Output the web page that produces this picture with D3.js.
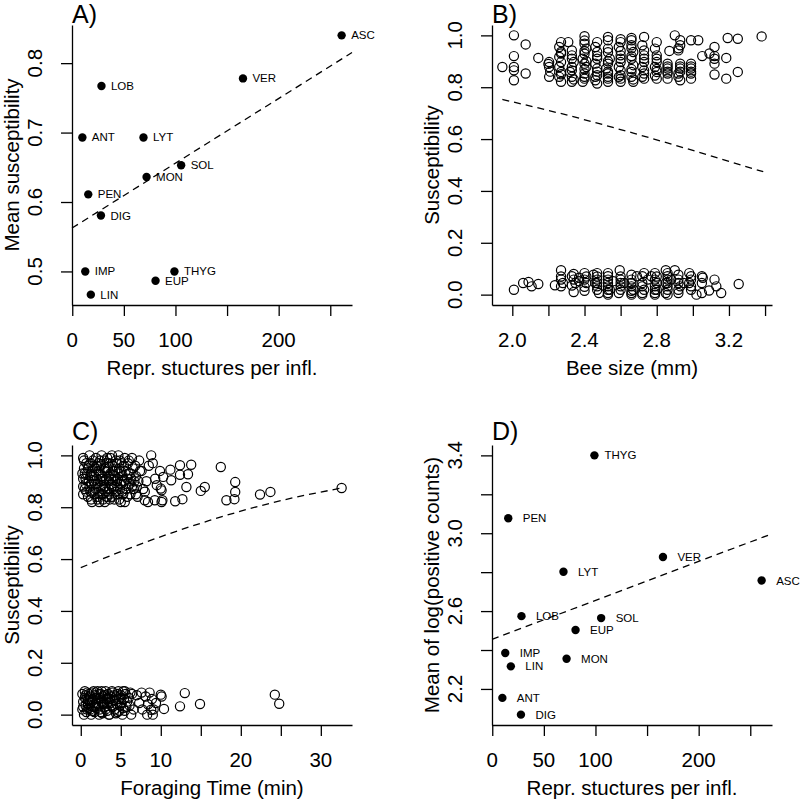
<!DOCTYPE html>
<html><head><meta charset="utf-8">
<script src="https://cdn.jsdelivr.net/npm/d3@7"></script>
<style>
body{margin:0;background:#fff}
text{font-family:"Liberation Sans",Arial,Helvetica,sans-serif;fill:#000}
</style>
</head><body>
<svg id="chart" width="800" height="800" style="background:#fff"></svg>
<script>
// ---------- DATA ----------
const species = ["ASC","VER","LOB","ANT","LYT","SOL","MON","PEN","DIG","IMP","THYG","EUP","LIN"];
const reprStructures = [261,165.4,28.3,9.8,69,105.5,72,15.5,27.8,12.6,99,80.7,18];
const meanSusceptibility = [0.840,0.778,0.767,0.693,0.693,0.653,0.636,0.611,0.5805,0.500,0.500,0.4865,0.4666];
const meanLogPositive = [2.757,2.878,2.574,2.154,2.802,2.564,2.355,3.077,2.068,2.385,3.400,2.503,2.316];
const fitA = [0.5627, 0.000932];   // intercept, slope
const fitD = [2.455, 0.0020];      // intercept, slope
const susceptibilityRange = [0, 1];

// Panel B: bee size (mm) vs susceptibility
const beeSizeUpper = [
 [2.009,1.0],[2.074,0.965],[2.009,0.92],[2.144,0.913],[1.945,0.878],[2.009,0.878],[2.009,0.865],[2.074,0.853],[2.009,0.827],
 [2.204,0.897],[2.204,0.878],[2.204,0.840],[2.21,0.86],[2.20,0.89],
 [2.27,0.974],[2.26,0.955],[2.27,0.936],[2.26,0.917],[2.27,0.897],[2.26,0.878],[2.27,0.859],[2.26,0.840],[2.27,0.821],[2.27,0.93],[2.27,0.85],
 [2.31,0.974],[2.33,0.942],[2.33,0.923],[2.34,0.897],[2.33,0.878],[2.32,0.859],[2.33,0.840],[2.33,0.821],[2.33,0.91],[2.33,0.865],[2.34,0.83],
 [2.40,0.997],[2.40,0.968],[2.41,0.949],[2.40,0.929],[2.39,0.910],[2.40,0.891],[2.41,0.878],[2.40,0.853],[2.40,0.833],[2.39,0.821],
 [2.40,0.94],[2.40,0.87],[2.40,0.84],[2.41,0.90],[2.40,0.98],
 [2.47,0.974],[2.46,0.955],[2.47,0.936],[2.47,0.910],[2.46,0.891],[2.47,0.872],[2.47,0.846],[2.46,0.827],[2.47,0.814],[2.47,0.92],[2.47,0.86],[2.46,0.84],
 [2.53,0.994],[2.53,0.981],[2.53,0.949],[2.54,0.910],[2.53,0.891],[2.52,0.872],[2.53,0.853],[2.53,0.833],[2.53,0.821],[2.53,0.935],[2.53,0.90],[2.53,0.86],[2.53,0.84],
 [2.60,0.974],[2.59,0.955],[2.60,0.923],[2.60,0.897],[2.59,0.878],[2.60,0.846],[2.60,0.833],[2.60,0.821],[2.60,0.94],[2.60,0.91],[2.60,0.865],[2.59,0.84],[2.60,0.985],
 [2.66,0.981],[2.66,0.962],[2.67,0.936],[2.66,0.910],[2.67,0.885],[2.66,0.859],[2.66,0.840],[2.67,0.821],[2.66,0.95],[2.66,0.92],[2.66,0.87],[2.67,0.83],[2.66,0.99],
 [2.73,0.994],[2.72,0.962],[2.73,0.942],[2.73,0.923],[2.73,0.897],[2.72,0.878],[2.73,0.853],[2.73,0.833],[2.73,0.91],[2.73,0.865],[2.72,0.84],
 [2.80,0.974],[2.79,0.949],[2.80,0.923],[2.80,0.897],[2.79,0.878],[2.80,0.859],[2.80,0.833],[2.80,0.91],[2.80,0.87],[2.79,0.845],
 [2.87,0.940],[2.86,0.891],[2.86,0.872],[2.86,0.853],[2.86,0.833],[2.86,0.88],[2.86,0.86],
 [2.90,1.0],[2.93,0.981],[2.93,0.962],[2.92,0.942],[2.93,0.891],[2.93,0.872],[2.92,0.853],[2.93,0.827],[2.93,0.88],[2.93,0.86],[2.92,0.84],[2.92,0.95],
 [2.99,0.981],[3.03,0.981],[2.99,0.891],[2.99,0.872],[2.99,0.853],[2.99,0.833],[2.99,0.88],[2.99,0.86],
 [3.052,0.92],[3.092,0.93],[3.12,0.955],[3.12,0.91],[3.12,0.891],[3.12,0.849],[3.12,0.92],[3.185,0.913],[3.185,0.833],
 [3.193,0.99],[3.249,0.987],[3.249,0.859],[3.381,0.996]
];
const beeSizeLower = [
 [2.009,0.019],[2.06,0.045],[2.09,0.049],[2.107,0.032],[2.144,0.041],
 [2.236,0.036],[2.27,0.094],[2.27,0.058],[2.27,0.032],[2.28,0.045],[2.27,0.07],
 [2.33,0.071],[2.34,0.058],[2.34,0.010],[2.35,0.045],[2.37,0.065],[2.37,0.052],[2.33,0.035],[2.34,0.08],
 [2.40,0.083],[2.40,0.058],[2.41,0.045],[2.40,0.03],[2.40,0.015],[2.41,0.07],
 [2.45,0.077],[2.47,0.083],[2.47,0.058],[2.47,0.032],[2.47,0.019],[2.48,0.006],[2.46,0.045],[2.47,0.07],[2.47,0.045],
 [2.53,0.083],[2.53,0.071],[2.53,0.045],[2.53,0.032],[2.54,0.019],[2.53,0.006],[2.56,0.052],[2.53,0.058],[2.53,0.019],[2.53,0.0],
 [2.595,0.094],[2.60,0.058],[2.60,0.032],[2.60,0.019],[2.59,0.006],[2.62,0.045],[2.60,0.07],[2.60,0.045],
 [2.66,0.077],[2.66,0.058],[2.66,0.045],[2.67,0.019],[2.66,0.006],[2.69,0.071],[2.66,0.032],[2.66,0.015],[2.66,0.0],
 [2.72,0.071],[2.72,0.045],[2.73,0.019],[2.72,0.006],[2.75,0.058],[2.72,0.032],[2.73,0.083],[2.72,0.0],
 [2.79,0.083],[2.79,0.058],[2.80,0.045],[2.79,0.032],[2.80,0.019],[2.79,0.006],[2.77,0.071],[2.79,0.019],[2.80,0.07],[2.79,0.0],
 [2.85,0.094],[2.86,0.083],[2.86,0.071],[2.85,0.045],[2.86,0.032],[2.86,0.019],[2.85,0.006],[2.88,0.058],[2.90,0.094],[2.86,0.045],[2.86,0.058],[2.86,0.0],
 [2.92,0.077],[2.92,0.058],[2.93,0.032],[2.92,0.006],[2.95,0.045],[2.92,0.045],[2.92,0.019],
 [2.98,0.083],[2.99,0.071],[2.98,0.045],[2.99,0.019],[2.99,0.058],[2.99,0.032],[3.02,0.000],[3.05,0.006],[3.055,0.065],[3.05,0.071],[3.05,0.045],[3.09,0.016],
 [3.12,0.058],[3.13,0.032],[3.157,0.006],[3.254,0.041]
];
const fitBx = [1.945, 2.3, 2.67, 3.0, 3.39];
const fitBy = [0.753, 0.693, 0.623, 0.556, 0.474];

// Panel C: foraging time (min) vs susceptibility
const forageUpper = [
 [0.3,0.99],[0.4,0.95],[0.3,0.91],[0.5,0.87],[0.3,0.85],[0.7,0.97],[0.8,0.93],[0.6,0.89],[0.9,0.84],[1.1,1.0],
 [1.0,0.96],[1.2,0.92],[1.1,0.88],[1.3,0.83],[1.5,0.98],[1.4,0.94],[1.6,0.90],[1.5,0.86],[1.4,0.82],[1.9,0.99],
 [1.8,0.95],[2.0,0.91],[1.9,0.87],[2.1,0.84],[2.2,0.97],[2.3,0.93],[2.1,0.89],[2.4,0.85],[2.3,0.82],[2.6,1.0],
 [2.5,0.96],[2.7,0.92],[2.6,0.88],[2.8,0.83],[2.9,0.98],[3.0,0.94],[2.9,0.90],[3.1,0.86],[3.0,0.82],[3.3,0.99],
 [3.4,0.95],[3.2,0.91],[3.5,0.87],[3.3,0.84],[3.6,0.97],[3.7,0.93],[3.8,0.89],[3.6,0.85],[3.9,1.0],[4.0,0.96],
 [4.1,0.92],[3.9,0.88],[4.2,0.83],[4.4,0.98],[4.3,0.94],[4.5,0.90],[4.4,0.86],[4.7,1.0],[4.8,0.95],[4.6,0.91],
 [4.9,0.87],[4.8,0.83],[5.1,0.97],[5.2,0.92],[5.0,0.89],[5.3,0.85],[5.5,0.99],[5.6,0.94],[5.4,0.90],[5.7,0.87],
 [5.5,0.82],[5.9,0.97],[6.0,0.93],[6.1,0.89],[6.2,0.85],[6.4,0.99],[6.5,0.95],[6.3,0.91],[6.6,0.87],[6.8,0.96],
 [6.9,0.92],[7.0,0.88],[7.1,0.84],[7.3,0.98],[7.4,0.94],[7.2,0.90],[0.5,0.93],[1.2,0.86],[2.0,0.96],[2.8,0.87],
 [3.5,0.92],[4.2,0.88],[5.0,0.94],[5.8,0.91],[1.7,0.92],[3.1,0.95],[4.6,0.85],[2.5,0.90],
 [0.4,0.98],[0.6,0.91],[0.7,0.86],[0.9,0.95],[1.0,0.90],[1.2,0.97],[1.3,0.89],[1.6,0.96],[1.7,0.85],[1.8,0.89],
 [2.2,0.86],[2.2,0.94],[2.4,0.98],[2.6,0.91],[2.7,0.85],[2.9,0.95],[3.0,0.88],[3.2,0.97],[3.4,0.86],[3.5,0.90],
 [3.7,0.99],[3.8,0.91],[3.9,0.84],[4.0,0.94],[4.1,0.87],[4.3,0.92],[4.5,0.97],[4.6,0.88],[4.7,0.93],[4.9,0.98],
 [5.1,0.90],[5.2,0.86],[5.4,0.96],[5.6,0.89],[5.8,0.84],[6.0,0.98],[6.2,0.93],[6.4,0.88],[6.7,0.90],[6.9,0.85],
 [1.4,0.92],[2.1,0.83],[3.6,0.83],[5.0,0.82],[0.2,0.93],[0.3,0.88],
 [7.6,0.94],[8.8,1.0],[9.9,0.94],[8.2,0.90],[9.5,0.885],[8.0,0.86],[10.1,0.865],[8.0,0.827],[8.4,0.82],[9.25,0.827],
 [10.1,0.82],[9.0,0.97],[8.5,0.96],[9.3,0.91],[7.8,0.87],
 [10.3,0.917],[11.2,0.945],[11.3,0.904],[12.4,0.962],[12.4,0.925],[13.4,0.927],[13.8,0.964],[13.2,0.878],[10.0,0.872],
 [10.2,0.827],[11.8,0.823],[12.7,0.831],[15.0,0.863],[15.5,0.878],[17.5,0.955],[19.3,0.897],[19.3,0.859],[18.2,0.827],
 [19.2,0.831],[22.4,0.849],[23.7,0.859],[32.6,0.874]
];
const forageLower = [
 [0.2,0.08],[0.3,0.05],[0.2,0.02],[0.4,0.0],[0.5,0.065],[0.6,0.035],[0.8,0.085],[0.9,0.055],[0.7,0.01],[1.0,0.025],
 [1.1,0.07],[1.2,0.045],[1.3,0.0],[1.4,0.085],[1.5,0.06],[1.6,0.03],[1.8,0.075],[1.9,0.045],[1.7,0.01],[2.1,0.09],
 [2.2,0.06],[2.0,0.025],[2.3,0.0],[2.5,0.08],[2.6,0.05],[2.4,0.02],[2.8,0.07],[2.9,0.04],[2.7,0.005],[3.1,0.09],
 [3.2,0.06],[3.0,0.03],[3.4,0.08],[3.5,0.05],[3.3,0.015],[3.7,0.07],[3.8,0.035],[3.6,0.0],[4.0,0.085],[4.1,0.055],
 [4.2,0.02],[4.4,0.07],[4.5,0.04],[4.7,0.09],[4.8,0.06],[4.6,0.01],[5.0,0.075],[5.1,0.045],[5.3,0.09],[5.4,0.06],
 [5.2,0.0],[5.6,0.08],[5.7,0.03],[5.5,0.015],[6.0,0.065],[6.1,0.035],[0.6,0.075],[1.5,0.015],[2.4,0.065],[3.3,0.045],
 [4.2,0.075],[0.9,0.04],[1.9,0.085],
 [0.3,0.03],[0.5,0.09],[0.7,0.06],[1.0,0.08],[1.2,0.02],[1.4,0.05],[1.6,0.09],[1.8,0.035],[2.0,0.065],[2.2,0.04],
 [2.5,0.01],[2.6,0.09],[2.8,0.045],[3.0,0.075],[3.1,0.02],[3.4,0.065],[3.5,0.0],[3.7,0.045],[3.9,0.09],[4.0,0.03],
 [4.3,0.055],[4.4,0.005],[4.6,0.08],[4.9,0.035],[5.1,0.065],[5.3,0.025],[5.5,0.09],[5.8,0.05],[6.2,0.085],[6.3,0.0],
 [1.1,0.055],[2.3,0.08],[3.6,0.06],[4.8,0.015],[0.8,0.02],
 [6.4,0.08],[6.6,0.02],[7.0,0.075],[7.3,0.045],[7.6,0.085],[7.7,0.02],[8.1,0.07],[8.4,0.04],[8.6,0.085],[8.3,0.0],
 [8.9,0.06],[9.1,0.02],[9.0,0.0],[9.4,0.045],[8.8,0.019],[10.0,0.077],[10.1,0.07],[10.4,0.022],
 [12.4,0.032],[13.0,0.083],[14.9,0.041],[24.25,0.077],[24.8,0.042]
];
const fitCx = [0, 8, 16, 24, 32.6];
const fitCy = [0.567, 0.664, 0.748, 0.818, 0.874];

// Axis ticks and labels
const ticksRepr = [0,50,100,150,200,250];
const labelsRepr = ["0","50","100","","200",""];
const ticksMeanSusc = [0.5,0.6,0.7,0.8];
const labelsMeanSusc = ["0.5","0.6","0.7","0.8"];
const ticksSusc = [0,0.2,0.4,0.6,0.8,1.0];
const labelsSusc = ["0.0","0.2","0.4","0.6","0.8","1.0"];
const ticksBee = [2.0,2.2,2.4,2.6,2.8,3.0,3.2,3.4];
const labelsBee = ["2.0","","2.4","","2.8","","3.2",""];
const ticksForage = [0,5,10,15,20,25,30];
const labelsForage = ["0","5","10","","20","","30"];
const ticksLog = [2.2,2.4,2.6,2.8,3.0,3.2,3.4];
const labelsLog = ["2.2","","2.6","","3.0","","3.4"];

// ---------- DRAWING ----------
const svg = d3.select("#chart");
const W = 280, H = 280;
const LW = 1.3;
function pad(ext){ const r = ext[1]-ext[0]; return [ext[0]-0.04*r, ext[1]+0.04*r]; }

function makePanel(o){
  const g = svg.append("g").attr("transform", `translate(${o.left},${o.top})`);
  const x = d3.scaleLinear().domain(o.xDomain).range([0, W]);
  const y = d3.scaleLinear().domain(o.yDomain).range([H, 0]);
  const xa = d3.axisBottom(x).tickValues(o.xTicks).tickSize(11).tickSizeOuter(0).tickFormat("");
  const ya = d3.axisLeft(y).tickValues(o.yTicks).tickSize(11).tickSizeOuter(0).tickFormat("");
  const gx = g.append("g").attr("transform", `translate(0,${H})`).call(xa);
  const gy = g.append("g").call(ya);
  [gx, gy].forEach(a => {
    a.selectAll("path,line").attr("stroke", "#000").attr("stroke-width", LW);
  });
  g.selectAll(".xl").data(o.xTicks.map((t,i)=>[t,o.xLabels[i]]).filter(d=>d[1]))
    .join("text").attr("x", d=>x(d[0])).attr("y", H+35).attr("dy","0.35em")
    .attr("text-anchor","middle").style("font-size","20.5px").text(d=>d[1]);
  g.selectAll(".yl").data(o.yTicks.map((t,i)=>[t,o.yLabels[i]]).filter(d=>d[1]))
    .join("text").attr("transform", d=>`translate(-37,${y(d[0])}) rotate(-90)`).attr("dy","0.35em")
    .attr("text-anchor","middle").style("font-size","20.5px").text(d=>d[1]);
  g.append("text").attr("x", W/2).attr("y", H+63).attr("dy","0.35em")
    .attr("text-anchor","middle").style("font-size","20.5px").text(o.xTitle);
  g.append("text").attr("transform", `translate(-60,${H/2}) rotate(-90)`).attr("dy","0.35em")
    .attr("text-anchor","middle").style("font-size","20.5px").text(o.yTitle);
  g.append("text").attr("x", 0).attr("y", o.letterY).style("font-size","25px").text(o.letter);
  return {g, x, y};
}

function labeledDots(p, xs, ys, offset){
  const data = species.map((s,i)=>({s, x: xs[i], y: ys[i]}));
  p.g.selectAll(".dot").data(data).join("circle")
    .attr("cx", d=>p.x(d.x)).attr("cy", d=>p.y(d.y)).attr("r", 4.2).attr("fill","#000");
  p.g.selectAll(".lab").data(data).join("text")
    .attr("x", d=>p.x(d.x)+offset(d.s)).attr("y", d=>p.y(d.y)).attr("dy","0.35em")
    .style("font-size","11.5px").text(d=>d.s);
}
function abline(p, coef){
  const [x0, x1] = p.x.domain();
  p.g.append("line").attr("x1", p.x(x0)).attr("y1", p.y(coef[0]+coef[1]*x0))
    .attr("x2", p.x(x1)).attr("y2", p.y(coef[0]+coef[1]*x1))
    .attr("stroke","#000").attr("stroke-width",LW).attr("stroke-dasharray","7,5");
}
function curve(p, xs, ys){
  const line = d3.line().x(d=>p.x(d[0])).y(d=>p.y(d[1])).curve(d3.curveMonotoneX);
  p.g.append("path").attr("d", line(xs.map((v,i)=>[v, ys[i]])))
    .attr("fill","none").attr("stroke","#000").attr("stroke-width",LW).attr("stroke-dasharray","7,5");
}
function openCircles(p, pts){
  p.g.append("g").selectAll("circle").data(pts).join("circle")
    .attr("cx", d=>p.x(d[0])).attr("cy", d=>p.y(d[1])).attr("r", 4.6)
    .attr("fill","none").attr("stroke","#000").attr("stroke-width",1.2);
}

// Panel A
const pA = makePanel({left:72, top:25, letter:"A)", letterY:-2.5,
  xDomain: pad(d3.extent(reprStructures)), yDomain: pad(d3.extent(meanSusceptibility)),
  xTicks: ticksRepr, xLabels: labelsRepr, yTicks: ticksMeanSusc, yLabels: labelsMeanSusc,
  xTitle: "Repr. stuctures per infl.", yTitle: "Mean susceptibility"});
abline(pA, fitA);
labeledDots(pA, reprStructures, meanSusceptibility, s => 9.5);

// Panel B
const beeAll = beeSizeUpper.concat(beeSizeLower);
const pB = makePanel({left:492, top:25, letter:"B)", letterY:-2.5,
  xDomain: pad(d3.extent(beeAll, d=>d[0])), yDomain: pad(susceptibilityRange),
  xTicks: ticksBee, xLabels: labelsBee, yTicks: ticksSusc, yLabels: labelsSusc,
  xTitle: "Bee size (mm)", yTitle: "Susceptibility"});
openCircles(pB, beeAll);
curve(pB, fitBx, fitBy);

// Panel C
const forAll = forageUpper.concat(forageLower);
const pC = makePanel({left:72, top:445, letter:"C)", letterY:-5.5,
  xDomain: pad(d3.extent(forAll, d=>d[0])), yDomain: pad(susceptibilityRange),
  xTicks: ticksForage, xLabels: labelsForage, yTicks: ticksSusc, yLabels: labelsSusc,
  xTitle: "Foraging Time (min)", yTitle: "Susceptibility"});
openCircles(pC, forAll);
curve(pC, fitCx, fitCy);

// Panel D
const pD = makePanel({left:492, top:445, letter:"D)", letterY:-5.5,
  xDomain: pad(d3.extent(reprStructures)), yDomain: pad(d3.extent(meanLogPositive)),
  xTicks: ticksRepr, xLabels: labelsRepr, yTicks: ticksLog, yLabels: labelsLog,
  xTitle: "Repr. stuctures per infl.", yTitle: "Mean of log(positive counts)"});
abline(pD, fitD);
labeledDots(pD, reprStructures, meanLogPositive, s => s === "THYG" ? 10 : 14.5);
</script>
</body></html>
